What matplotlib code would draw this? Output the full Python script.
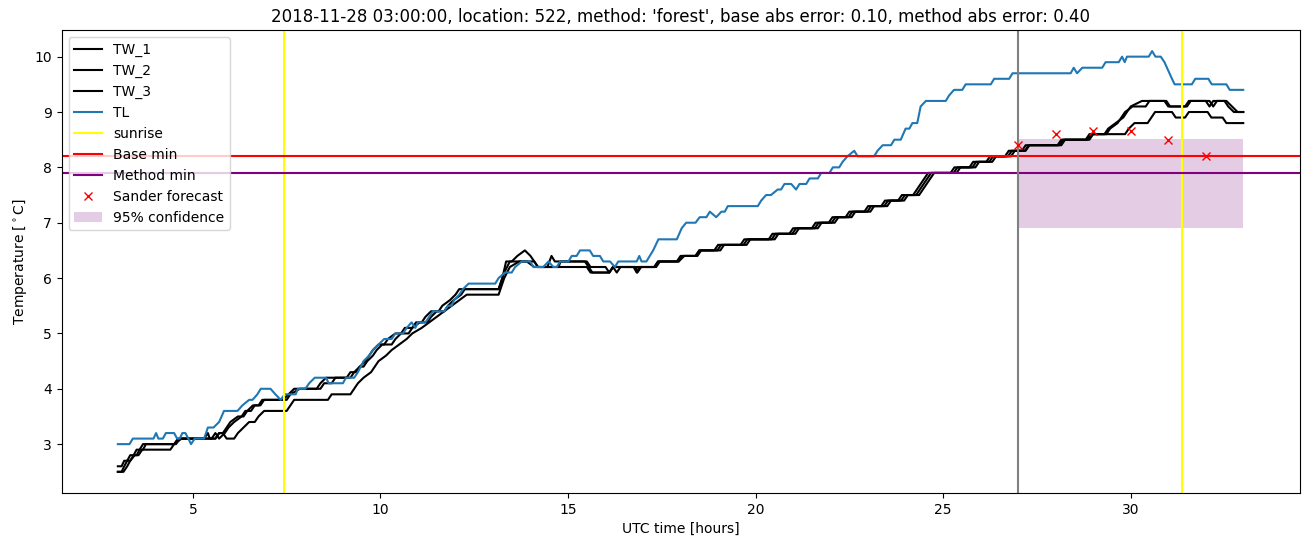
import matplotlib
matplotlib.use("Agg")
import matplotlib.pyplot as plt
import numpy as np

# (hour, temperature) readings, step-like 0.1 degC sensor data
tl_points = [
    (3.0, 3.0), (3.31, 3.0), (3.40, 3.1), (3.95, 3.1), (4.02, 3.2), (4.08, 3.1),
    (4.2, 3.1), (4.28, 3.2), (4.50, 3.2), (4.58, 3.1), (4.65, 3.1), (4.72, 3.2),
    (4.80, 3.2), (4.88, 3.1), (4.95, 3.0), (5.05, 3.1), (5.30, 3.1), (5.40, 3.3),
    (5.55, 3.3), (5.70, 3.4), (5.83, 3.6), (6.19, 3.6), (6.32, 3.7), (6.50, 3.8),
    (6.59, 3.8), (6.72, 3.9), (6.81, 4.0), (7.07, 4.0), (7.20, 3.9), (7.34, 3.8),
    (7.45, 3.9), (7.74, 3.9), (7.80, 4.0), (8.0, 4.0), (8.1, 4.1), (8.25, 4.2),
    (8.55, 4.2), (8.62, 4.1), (9.0, 4.1), (9.08, 4.2), (9.3, 4.2), (9.4, 4.3),
    (9.55, 4.5), (9.7, 4.6), (9.8, 4.7), (9.95, 4.8), (10.1, 4.9), (10.3, 4.9),
    (10.4, 5.0), (10.6, 5.0), (10.7, 5.1), (10.83, 5.2), (10.93, 5.1), (11.0, 5.2),
    (11.2, 5.2), (11.3, 5.3), (11.4, 5.4), (11.7, 5.4), (11.8, 5.5), (11.9, 5.5),
    (11.96, 5.6), (12.1, 5.7), (12.2, 5.8), (12.35, 5.9), (13.06, 5.9), (13.15, 6.0),
    (13.32, 6.1), (13.5, 6.1), (13.59, 6.2), (13.77, 6.3), (13.99, 6.3), (14.08, 6.2),
    (14.34, 6.2), (14.48, 6.3), (14.61, 6.2), (14.7, 6.2), (14.79, 6.3), (15.01, 6.3),
    (15.1, 6.4), (15.23, 6.4), (15.32, 6.5), (15.58, 6.5), (15.67, 6.4), (15.85, 6.4),
    (15.94, 6.3), (16.12, 6.3), (16.25, 6.2), (16.34, 6.3), (16.83, 6.3), (16.9, 6.4),
    (16.96, 6.3), (17.09, 6.3), (17.18, 6.4), (17.27, 6.5), (17.41, 6.7), (17.9, 6.7),
    (18.03, 6.9), (18.15, 7.0), (18.4, 7.0), (18.51, 7.1), (18.69, 7.1), (18.78, 7.2),
    (18.95, 7.1), (19.09, 7.2), (19.18, 7.2), (19.26, 7.3), (20.06, 7.3), (20.15, 7.4),
    (20.28, 7.5), (20.41, 7.5), (20.59, 7.6), (20.68, 7.6), (20.77, 7.7), (20.95, 7.7),
    (21.08, 7.6), (21.17, 7.7), (21.35, 7.7), (21.44, 7.8), (21.66, 7.8), (21.75, 7.9),
    (21.97, 7.9), (22.06, 8.0), (22.23, 8.0), (22.32, 8.1), (22.45, 8.2), (22.63, 8.3),
    (22.72, 8.2), (23.16, 8.2), (23.25, 8.3), (23.39, 8.4), (23.61, 8.4), (23.7, 8.5),
    (23.87, 8.5), (24.0, 8.7), (24.1, 8.7), (24.18, 8.8), (24.31, 8.8), (24.4, 9.1),
    (24.54, 9.2), (25.07, 9.2), (25.16, 9.3), (25.29, 9.4), (25.51, 9.4), (25.6, 9.5),
    (26.27, 9.5), (26.36, 9.6), (26.76, 9.6), (26.85, 9.7), (28.4, 9.7), (28.48, 9.8),
    (28.57, 9.7), (28.71, 9.8), (29.24, 9.8), (29.33, 9.9), (29.68, 9.9), (29.77, 10.0),
    (29.84, 9.9), (29.9, 10.0), (30.48, 10.0), (30.57, 10.1), (30.66, 10.0), (30.8, 10.0),
    (30.9, 9.9), (31.0, 9.75), (31.1, 9.6), (31.17, 9.5), (31.63, 9.5), (31.72, 9.6),
    (32.07, 9.6), (32.16, 9.5), (32.55, 9.5), (32.64, 9.4), (33.0, 9.4),
]

tw1_points = [
    (3.0, 2.6), (3.1, 2.6), (3.17, 2.7), (3.25, 2.7), (3.33, 2.8), (3.42, 2.8),
    (3.5, 2.9), (3.58, 2.9), (3.67, 3.0), (4.5, 3.0), (4.6, 3.1), (5.3, 3.1),
    (5.4, 3.2), (5.45, 3.1), (5.6, 3.1), (5.7, 3.2), (5.8, 3.2), (5.9, 3.3),
    (6.0, 3.4), (6.2, 3.5), (6.35, 3.5), (6.45, 3.6), (6.6, 3.7), (6.75, 3.7),
    (6.85, 3.8), (7.4, 3.8), (7.55, 3.9), (7.7, 4.0), (8.3, 4.0), (8.4, 4.1),
    (8.55, 4.2), (9.1, 4.2), (9.2, 4.3), (9.35, 4.3), (9.45, 4.4), (9.6, 4.5),
    (9.7, 4.6), (9.8, 4.7), (9.95, 4.8), (10.1, 4.8), (10.2, 4.9), (10.4, 5.0),
    (10.55, 5.0), (10.65, 5.1), (10.85, 5.1), (10.95, 5.2), (11.1, 5.2), (11.2, 5.3),
    (11.35, 5.4), (11.55, 5.4), (11.65, 5.5), (11.85, 5.6), (12.0, 5.7), (12.1, 5.8),
    (13.15, 5.8), (13.25, 6.0), (13.35, 6.3), (13.5, 6.3), (13.65, 6.4), (13.85, 6.5),
    (14.0, 6.4), (14.1, 6.3), (14.2, 6.2), (14.75, 6.2), (14.8, 6.3), (15.45, 6.3),
    (15.55, 6.2), (15.65, 6.1), (16.1, 6.1), (16.2, 6.2), (16.3, 6.1), (16.4, 6.2),
    (16.75, 6.2), (16.83, 6.1), (16.9, 6.2), (17.3, 6.2), (17.4, 6.3), (17.9, 6.3),
    (18.0, 6.4), (18.4, 6.4), (18.5, 6.5), (18.9, 6.5), (19.0, 6.6), (19.6, 6.6),
    (19.7, 6.7), (20.35, 6.7), (20.45, 6.8), (20.9, 6.8), (21.0, 6.9), (21.5, 6.9),
    (21.6, 7.0), (21.95, 7.0), (22.05, 7.1), (22.4, 7.1), (22.5, 7.2), (22.9, 7.2),
    (23.0, 7.3), (23.35, 7.3), (23.45, 7.4), (23.8, 7.4), (23.9, 7.5), (24.2, 7.5),
    (24.3, 7.6), (24.4, 7.7), (24.5, 7.8), (24.6, 7.9), (25.2, 7.9), (25.3, 8.0),
    (25.7, 8.0), (25.8, 8.1), (26.15, 8.1), (26.25, 8.2), (26.65, 8.2), (26.75, 8.3),
    (27.1, 8.3), (27.2, 8.4), (28.05, 8.4), (28.15, 8.5), (28.8, 8.5), (28.9, 8.6),
    (29.3, 8.6), (29.4, 8.7), (29.6, 8.8), (29.8, 8.9), (30.0, 9.1), (30.3, 9.2),
    (30.9, 9.2), (31.0, 9.1), (31.45, 9.1), (31.55, 9.2), (32.0, 9.2), (32.1, 9.1),
    (32.2, 9.2), (32.5, 9.2), (32.6, 9.1), (32.75, 9.0), (33.0, 9.0),
]

tw2_points = [
    (3.0, 2.5), (3.1, 2.5), (3.17, 2.6), (3.25, 2.7), (3.33, 2.7), (3.42, 2.8),
    (3.5, 2.8), (3.58, 2.9), (3.67, 2.9), (3.75, 3.0), (4.55, 3.0), (4.65, 3.1),
    (5.5, 3.1), (5.6, 3.2), (5.7, 3.1), (5.85, 3.2), (5.95, 3.3), (6.1, 3.4),
    (6.3, 3.5), (6.4, 3.6), (6.55, 3.6), (6.65, 3.7), (6.8, 3.7), (6.9, 3.8),
    (7.5, 3.8), (7.6, 3.9), (7.85, 4.0), (8.4, 4.0), (8.5, 4.1), (8.7, 4.1),
    (8.8, 4.2), (9.2, 4.2), (9.3, 4.3), (9.45, 4.4), (9.55, 4.4), (9.65, 4.5),
    (9.8, 4.6), (9.9, 4.7), (10.05, 4.8), (10.3, 4.8), (10.4, 4.9), (10.55, 5.0),
    (10.75, 5.0), (10.85, 5.1), (11.05, 5.2), (11.25, 5.2), (11.35, 5.3), (11.5, 5.4),
    (11.7, 5.4), (11.8, 5.5), (11.95, 5.6), (12.15, 5.7), (12.25, 5.8), (13.15, 5.8),
    (13.3, 6.1), (13.45, 6.3), (13.9, 6.3), (14.1, 6.2), (14.45, 6.2), (14.56, 6.4),
    (14.65, 6.3), (15.5, 6.3), (15.6, 6.2), (16.0, 6.2), (16.1, 6.1), (16.2, 6.2),
    (16.8, 6.2), (16.85, 6.1), (16.95, 6.2), (17.35, 6.2), (17.45, 6.3), (17.95, 6.3),
    (18.1, 6.4), (18.45, 6.4), (18.55, 6.5), (18.98, 6.5), (19.08, 6.6), (19.68, 6.6),
    (19.78, 6.7), (20.43, 6.7), (20.53, 6.8), (20.98, 6.8), (21.08, 6.9), (21.58, 6.9),
    (21.68, 7.0), (22.03, 7.0), (22.13, 7.1), (22.48, 7.1), (22.58, 7.2), (22.98, 7.2),
    (23.08, 7.3), (23.43, 7.3), (23.53, 7.4), (23.88, 7.4), (23.98, 7.5), (24.28, 7.5),
    (24.38, 7.6), (24.48, 7.7), (24.58, 7.8), (24.68, 7.9), (25.28, 7.9), (25.38, 8.0),
    (25.78, 8.0), (25.88, 8.1), (26.23, 8.1), (26.33, 8.2), (26.73, 8.2), (26.83, 8.3),
    (27.18, 8.3), (27.28, 8.4), (28.15, 8.4), (28.25, 8.5), (28.85, 8.5), (28.95, 8.6),
    (29.35, 8.6), (29.45, 8.7), (29.65, 8.8), (29.85, 9.0), (30.05, 9.1), (30.4, 9.1),
    (30.5, 9.2), (30.95, 9.2), (31.05, 9.1), (31.5, 9.1), (31.6, 9.2), (32.1, 9.2),
    (32.2, 9.1), (32.3, 9.2), (32.55, 9.2), (32.7, 9.1), (32.85, 9.0), (33.0, 9.0),
]

tw3_points = [
    (3.0, 2.5), (3.15, 2.5), (3.25, 2.6), (3.33, 2.7), (3.45, 2.8), (3.55, 2.8),
    (3.65, 2.9), (4.4, 2.9), (4.5, 3.0), (4.7, 3.1), (5.6, 3.1), (5.7, 3.2),
    (5.8, 3.2), (5.9, 3.1), (6.1, 3.1), (6.2, 3.2), (6.35, 3.3), (6.5, 3.4),
    (6.65, 3.4), (6.75, 3.5), (6.9, 3.6), (7.5, 3.6), (7.6, 3.7), (7.7, 3.8),
    (8.6, 3.8), (8.7, 3.9), (9.2, 3.9), (9.3, 4.0), (9.4, 4.1), (9.55, 4.2),
    (9.75, 4.3), (9.85, 4.4), (9.95, 4.5), (10.15, 4.6), (10.3, 4.7), (10.5, 4.8),
    (10.7, 4.9), (10.85, 5.0), (11.1, 5.1), (11.3, 5.2), (11.5, 5.3), (11.7, 5.4),
    (11.9, 5.5), (12.1, 5.6), (12.3, 5.7), (13.15, 5.7), (13.3, 6.0), (13.45, 6.2),
    (13.7, 6.3), (14.1, 6.3), (14.2, 6.2), (15.5, 6.2), (15.6, 6.1), (16.1, 6.1),
    (16.2, 6.2), (17.3, 6.2), (17.4, 6.3), (17.95, 6.3), (18.05, 6.4), (18.4, 6.4),
    (18.5, 6.5), (19.06, 6.5), (19.16, 6.6), (19.76, 6.6), (19.86, 6.7), (20.51, 6.7),
    (20.61, 6.8), (21.06, 6.8), (21.16, 6.9), (21.66, 6.9), (21.76, 7.0), (22.11, 7.0),
    (22.21, 7.1), (22.56, 7.1), (22.66, 7.2), (23.06, 7.2), (23.16, 7.3), (23.51, 7.3),
    (23.61, 7.4), (23.96, 7.4), (24.06, 7.5), (24.36, 7.5), (24.46, 7.6), (24.56, 7.7),
    (24.66, 7.8), (24.76, 7.9), (25.36, 7.9), (25.46, 8.0), (25.86, 8.0), (25.96, 8.1),
    (26.31, 8.1), (26.41, 8.2), (26.81, 8.2), (26.91, 8.3), (27.2, 8.3), (27.3, 8.4),
    (28.1, 8.4), (28.2, 8.5), (28.9, 8.5), (29.0, 8.6), (29.85, 8.6), (29.95, 8.7),
    (30.1, 8.8), (30.45, 8.8), (30.55, 8.9), (30.65, 9.0), (31.1, 9.0), (31.2, 8.9),
    (31.45, 8.9), (31.55, 9.0), (32.05, 9.0), (32.15, 8.9), (32.45, 8.9), (32.55, 8.8),
    (33.0, 8.8),
]

sunrise_hours = [7.42, 31.38]
forecast_start = 27.0
base_min = 8.2
method_min = 7.9

forecast_hours = [27, 28, 29, 30, 31, 32]
forecast_temp = [8.4, 8.6, 8.65, 8.65, 8.5, 8.2]

conf_hours = [27.0, 33.0]
conf_low = 6.9
conf_high = 8.52

title = ("2018-11-28 03:00:00, location: 522, method: 'forest', "
         "base abs error: 0.10, method abs error: 0.40")


def unzip(points):
    arr = np.array(points)
    return arr[:, 0], arr[:, 1]


fig, ax = plt.subplots(figsize=(13.1, 5.47), dpi=100)
fig.subplots_adjust(left=0.047, right=0.992, top=0.945, bottom=0.099)

for name, pts in [("TW_1", tw1_points), ("TW_2", tw2_points), ("TW_3", tw3_points)]:
    h, t = unzip(pts)
    ax.plot(h, t, color="black", label=name)

h, t = unzip(tl_points)
ax.plot(h, t, color="tab:blue", label="TL")

for i, sr in enumerate(sunrise_hours):
    ax.axvline(sr, color="yellow", label="sunrise" if i == 0 else None)

ax.axhline(base_min, color="red", label="Base min")
ax.axhline(method_min, color="purple", label="Method min")
ax.axvline(forecast_start, color="grey")

ax.plot(forecast_hours, forecast_temp, "rx", label="Sander forecast")
ax.fill_between(conf_hours, conf_low, conf_high, color="purple", alpha=0.2,
                linewidth=0, label="95% confidence")

ax.set_title(title)
ax.set_xlabel("UTC time [hours]")
ax.set_ylabel(r"Temperature [$^\circ$C]")
ax.legend(loc="upper left")

fig.savefig("out.png", dpi=100)
